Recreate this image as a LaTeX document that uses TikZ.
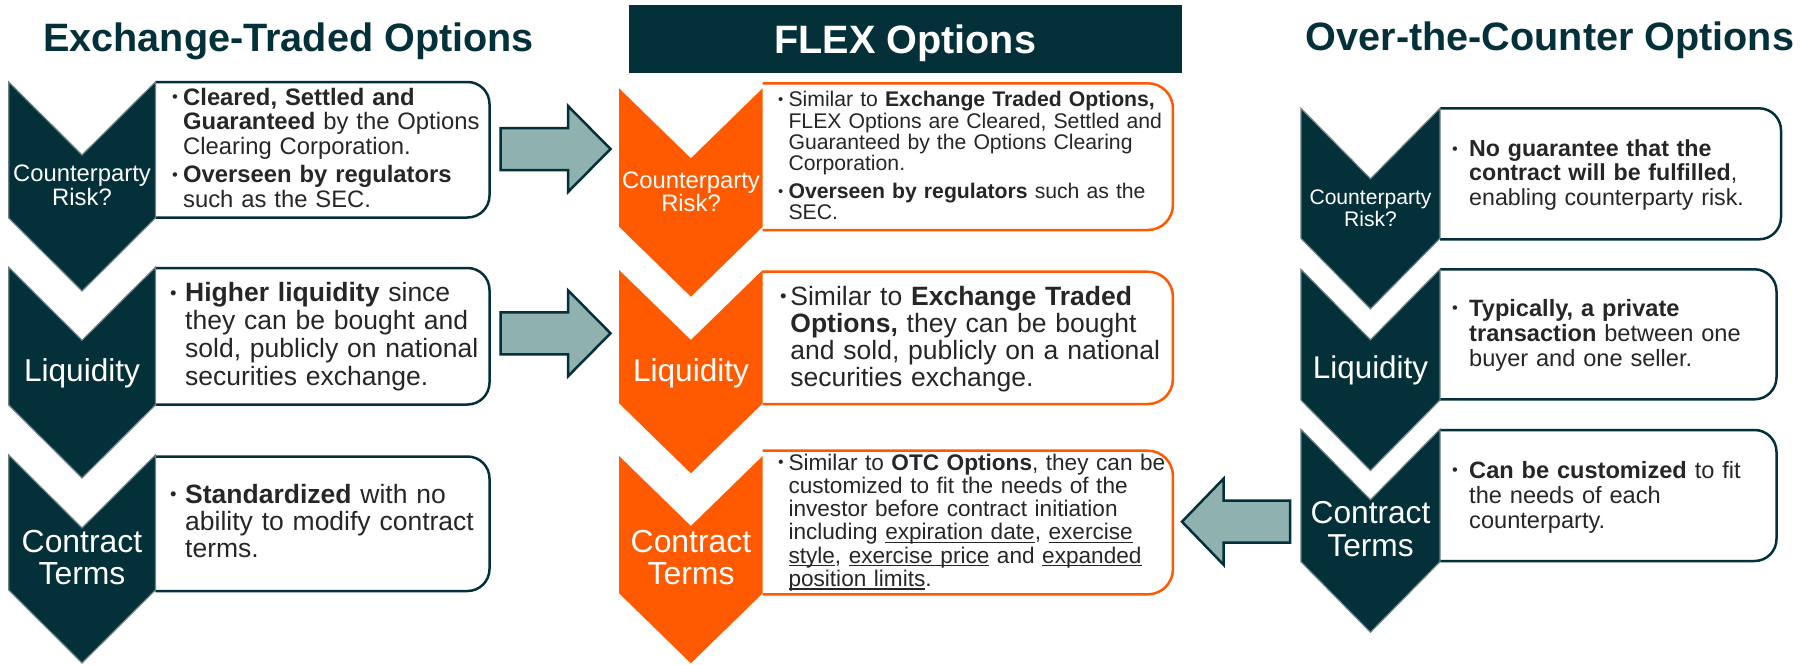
\documentclass[tikz,border=0pt]{standalone}
\usepackage{fontspec}
\setmainfont{Liberation Sans}
\usepackage{graphicx}
\definecolor{dteal}{HTML}{04303A}
\definecolor{orng}{HTML}{FF5A00}
\definecolor{afill}{HTML}{8FB1B0}
\definecolor{tgray}{HTML}{262626}
\definecolor{cedge}{HTML}{6F8285}
\newsavebox\ulbox
\newcommand\ulin[1]{\leavevmode\sbox\ulbox{#1}\rlap{\rule[-3pt]{\wd\ulbox}{1.1pt}}\usebox\ulbox}
\newcommand\fsz[2]{\fontsize{#1pt}{#2pt}\selectfont}
\newcommand\bul[1]{\leavevmode\llap{\makebox[#1pt][l]{\raisebox{0.1em}{\scalebox{0.7}{•}}}}}
\newcommand\chev[6]{\filldraw[#6] (#1,#3) -- ({(#1+#2)/2},{#3+#5}) -- (#2,#3) -- (#2,#4) -- ({(#1+#2)/2},{#4+#5}) -- (#1,#4) -- cycle;}
\newcommand\rbox[6]{%
 \fill[white] (#1,#2) -- ({#3-#6},#2) arc[start angle=-90,end angle=0,radius=#6] -- (#3,{#4-#6}) arc[start angle=0,end angle=90,radius=#6] -- (#1,#4) -- cycle;
 \draw[#5,line width=2.5pt] (#1,#2) -- ({#3-#6},#2) arc[start angle=-90,end angle=0,radius=#6] -- (#3,{#4-#6}) arc[start angle=0,end angle=90,radius=#6] -- (#1,#4);}
\newcommand\barrow[4]{\filldraw[fill=afill,draw=dteal,line width=2.5pt,line join=miter] (#1,{#4-21}) -- (#2,{#4-21}) -- (#2,{#4-43}) -- (#3,#4) -- (#2,{#4+43}) -- (#2,{#4+21}) -- (#1,{#4+21}) -- cycle;}
\tikzset{
  dchev/.style={fill=dteal,draw=cedge,line width=1.2pt,line join=miter},
  ochev/.style={fill=orng,draw=none},
  ttl/.style={font=\fsz{39.6}{44}\bfseries,text=dteal,anchor=base,inner sep=0pt},
  lab/.style={text=white,anchor=base,align=center,text width=160pt,inner sep=0pt},
  btxt/.style={text=tgray,anchor=base west,align=left,text width=420pt,inner sep=0pt}
}
\begin{document}
\begin{tikzpicture}[x=1pt,y=-1pt]
\fill[white] (0,0) rectangle (1812,664);
\useasboundingbox (0,0) rectangle (1812,664);

% titles
\node[ttl] (tl) at (288.6,51.7) {Exchange-Traded Options};
\node[fill=dteal,inner sep=0pt,minimum width=553pt,minimum height=67.7pt] (flexbar) at (905.2,38.85) {};
\node[ttl,text=white] (tm) at (905.2,53.3) {FLEX Options};
\node[ttl] (tr) at (1550,50) {Over-the-Counter Options};

% boxes
\rbox{155.4}{82}{489.5}{217.5}{dteal}{22}
\rbox{155.4}{268}{489.5}{404.5}{dteal}{22}
\rbox{155.4}{456.5}{489.5}{591}{dteal}{22}
\rbox{762.6}{83.3}{1172.9}{230}{orng}{25}
\rbox{762.6}{271.7}{1172.9}{404}{orng}{25}
\rbox{762.6}{450.7}{1172.9}{594.3}{orng}{25}
\rbox{1440}{108.3}{1781}{239.3}{dteal}{22}
\rbox{1440}{269.3}{1776.5}{399.3}{dteal}{22}
\rbox{1440}{430}{1776.5}{561}{dteal}{22}

% chevrons
\chev{8.7}{155.4}{82}{218}{73}{dchev}
\chev{8.7}{155.4}{267.3}{405}{73}{dchev}
\chev{8.7}{155.4}{455}{590}{73}{dchev}
\chev{619.1}{762.6}{88.3}{226.7}{70}{ochev}
\chev{619.1}{762.6}{270}{403.3}{70}{ochev}
\chev{619.1}{762.6}{456}{593.3}{70}{ochev}
\chev{1300.9}{1440}{108.3}{238.3}{70.5}{dchev}
\chev{1300.9}{1440}{269.3}{400}{70.5}{dchev}
\chev{1300.9}{1440}{429.3}{561.7}{70.5}{dchev}

% block arrows
\barrow{500.5}{568}{610.5}{149}
\barrow{500.5}{568}{610.5}{333.3}
\barrow{1290}{1223.5}{1182}{521.7}

% chevron labels
\node[lab,font=\fsz{23.8}{23.3}] (l1) at (82,181.7) {Counterparty\\Risk?};
\node[lab,font=\fsz{31.6}{32}] (l2) at (82,381.7) {Liquidity};
\node[lab,font=\fsz{31.9}{31.6}] (l3) at (82,552.7) {Contract\\Terms};
\node[lab,font=\fsz{23.8}{23.4}] (m1) at (691,188.3) {Counterparty\\Risk?};
\node[lab,font=\fsz{31.6}{32}] (m2) at (691,381.7) {Liquidity};
\node[lab,font=\fsz{31.9}{31.6}] (m3) at (691,552.7) {Contract\\Terms};
\node[lab,font=\fsz{21.1}{22.7}] (r1) at (1370.5,204) {Counterparty\\Risk?};
\node[lab,font=\fsz{31.4}{32}] (r2) at (1370.5,378.3) {Liquidity};
\node[lab,font=\fsz{31.7}{32.7}] (r3) at (1370.5,523.3) {Contract\\Terms};

% box texts - left
\node[btxt,font=\fsz{23.8}{24.7}] (lt1) at (183,105) {\bul{11}\textbf{Cleared, Settled and}\\ \textbf{Guaranteed} by the Options\\ Clearing Corporation.\\[3.7pt] \bul{11}\textbf{Overseen by regulators}\\ such as the SEC.};
\node[btxt,font=\fsz{26.5}{27.8}] (lt2) at (185,301.7) {\bul{15}\textbf{Higher liquidity} since\\ they can be bought and\\ sold, publicly on national\\ securities exchange.};
\node[btxt,font=\fsz{26.5}{27.2}] (lt3) at (185,503.3) {\bul{15}\textbf{Standardized} with no\\ ability to modify contract\\ terms.};

% box texts - middle
\node[btxt,font=\fsz{21.2}{21.4}] (mt1) at (788.3,106.7) {\bul{10.3}Similar to \textbf{Exchange Traded Options,}\\ FLEX Options are Cleared, Settled and\\ Guaranteed by the Options Clearing\\ Corporation.\\[5.9pt] \bul{10.3}\textbf{Overseen by regulators} such as the\\ SEC.};
\node[btxt,font=\fsz{26.5}{27.2}] (mt2) at (790.2,305) {\bul{10.3}Similar to \textbf{Exchange Traded}\\ \textbf{Options,} they can be bought\\ and sold, publicly on a national\\ securities exchange.};
\node[btxt,font=\fsz{22.6}{23.3}] (mt3) at (788.3,470) {\bul{10.3}Similar to \textbf{OTC Options}, they can be\\ customized to fit the needs of the\\ investor before contract initiation\\ including \ulin{expiration date}, \ulin{exercise}\\ \ulin{style}, \ulin{exercise price} and \ulin{expanded}\\ \ulin{position limits}.};

% box texts - right
\node[btxt,font=\fsz{23.2}{24.2}] (rt1) at (1469,156.7) {\bul{17}\textbf{No guarantee that the}\\ \textbf{contract will be fulfilled},\\ enabling counterparty risk.};
\node[btxt,font=\fsz{23.6}{25.3}] (rt2) at (1469,316) {\bul{17}\textbf{Typically, a private}\\ \textbf{transaction} between one\\ buyer and one seller.};
\node[btxt,font=\fsz{23.6}{25}] (rt3) at (1469,478.3) {\bul{17}\textbf{Can be customized} to fit\\ the needs of each\\ counterparty.};
\end{tikzpicture}
\end{document}
